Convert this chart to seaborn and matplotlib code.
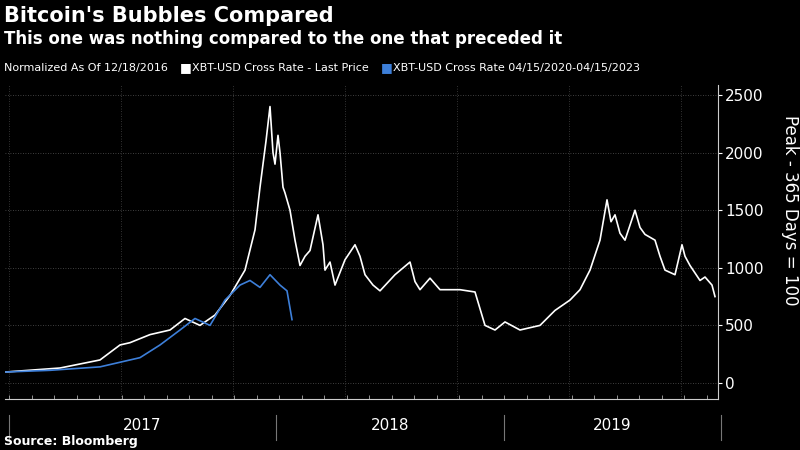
import matplotlib
matplotlib.use("Agg")
import matplotlib.pyplot as plt
import seaborn as sns
import numpy as np

# x in chart units (0 = 12/18/2016); year boundaries at these positions
year_labels = ["2017", "2018", "2019"]
year_bounds = [4, 271, 499, 716]

white_x = [0,55,95,115,125,145,165,180,195,210,225,240,250,255,261,265,268,270,273,275,278,280,285,290,295,300,305,313,318,320,325,330,340,350,355,360,368,375,390,405,410,415,425,435,455,470,480,490,500,515,535,550,565,575,585,595,602,606,610,615,620,630,635,640,650,655,660,670,677,680,685,695,700,707,710]
white_y = [95,130,200,330,350,420,460,560,500,590,760,980,1330,1700,2100,2400,2000,1900,2150,2000,1700,1650,1500,1240,1020,1100,1150,1460,1200,980,1050,850,1070,1200,1100,940,850,800,940,1050,880,810,910,810,810,790,500,460,530,460,500,630,720,810,980,1240,1590,1400,1460,1300,1240,1500,1350,1290,1240,1100,980,940,1200,1100,1020,890,920,850,750]

blue_x = [0,45,95,135,155,175,190,205,220,235,245,255,265,275,282,285,287]
blue_y = [95,110,140,220,330,460,560,500,720,850,890,830,940,850,800,650,550]

fig = plt.figure(figsize=(8, 4.5), dpi=100, facecolor="black")
ax = fig.add_axes([5/800, 51/450, 713/800, 314/450], facecolor="black")
sns.lineplot(x=white_x, y=white_y, color="white", lw=1.2, ax=ax)
sns.lineplot(x=blue_x, y=blue_y, color="#3d7fd9", lw=1.2, ax=ax)

ax.set_xlim(0, 713)
ax.set_ylim(-139, 2587)
ax.yaxis.tick_right()
ax.set_yticks([0, 500, 1000, 1500, 2000, 2500])
ax.tick_params(axis="y", colors="white", labelsize=11, length=3, pad=2)
ax.set_xticks(np.arange(4, 713, 22.5), minor=True)
ax.set_xticks([])
ax.tick_params(axis="x", which="minor", colors="#aaaaaa", length=3, direction="in")
for t in [0, 500, 1000, 1500, 2000, 2500]:
    ax.axhline(t, color="#555555", lw=0.6, ls=(0, (1, 2)), zorder=0)
for xv in np.arange(4, 713, 112):
    ax.axvline(xv, color="#444444", lw=0.6, ls=(0, (1, 2)), zorder=0)
for s in ["top", "left"]:
    ax.spines[s].set_visible(False)
ax.spines["bottom"].set_color("#cccccc")
ax.spines["right"].set_color("#cccccc")

tr = ax.get_xaxis_transform()
for b in year_bounds:
    ax.plot([b, b], [-0.13, -0.05], transform=tr, color="#777777", lw=0.8, clip_on=False)
for i, lab in enumerate(year_labels):
    ax.text((year_bounds[i] + year_bounds[i+1]) / 2, -0.085, lab, transform=tr,
            ha="center", va="center", color="white", fontsize=11)

fig.text(790/800, 240/450, "Peak - 365 Days = 100", rotation=-90, color="white", fontsize=12, ha="center", va="center")
fig.text(4/800, 1-16/450, "Bitcoin's Bubbles Compared", color="white", fontsize=15, fontweight="bold", va="center")
fig.text(4/800, 1-39/450, "This one was nothing compared to the one that preceded it", color="white", fontsize=12, fontweight="bold", va="center")
fig.text(4/800, 1-68/450, "Normalized As Of 12/18/2016", color="white", fontsize=8, va="center")
fig.text(180/800, 1-68/450, "\u25a0", color="white", fontsize=9, va="center")
fig.text(192/800, 1-68/450, "XBT-USD Cross Rate - Last Price", color="white", fontsize=8, va="center")
fig.text(381/800, 1-68/450, "\u25a0", color="#3d7fd9", fontsize=9, va="center")
fig.text(393/800, 1-68/450, "XBT-USD Cross Rate 04/15/2020-04/15/2023", color="white", fontsize=8, va="center")
fig.text(4/800, 1-441/450, "Source: Bloomberg", color="white", fontsize=9, fontweight="bold", va="center")

fig.savefig("out.png", dpi=100, facecolor="black")
